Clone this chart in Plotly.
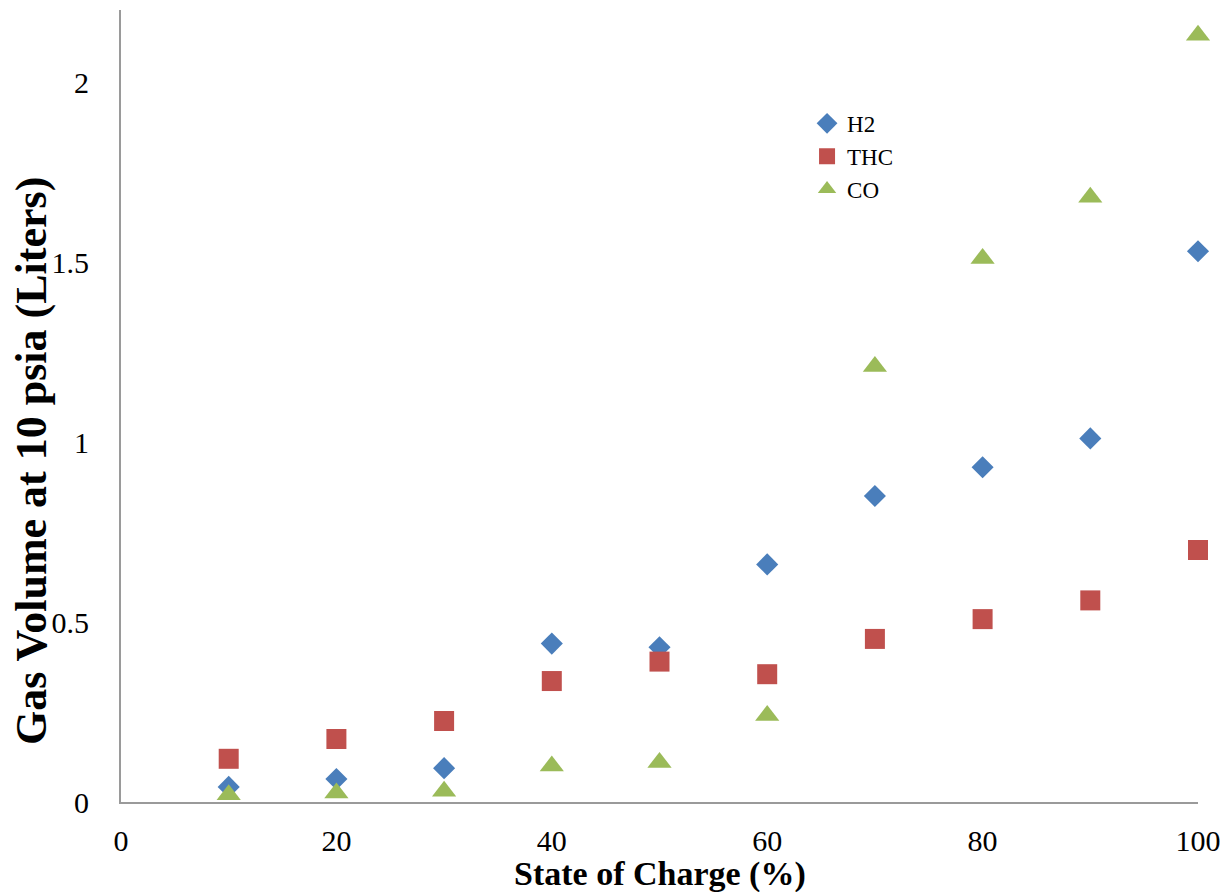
import plotly.graph_objects as go

soc = [10, 20, 30, 40, 50, 60, 70, 80, 90, 100]
h2 = [0.042, 0.064, 0.094, 0.44, 0.43, 0.66, 0.85, 0.93, 1.01, 1.53]
thc = [0.12, 0.175, 0.225, 0.336, 0.39, 0.355, 0.453, 0.508, 0.56, 0.70]
co = [0.02, 0.025, 0.03, 0.10, 0.11, 0.24, 1.21, 1.51, 1.68, 2.13]

x_title = "State of Charge (%)"
y_title = "Gas Volume at 10 psia (Liters)"

font = "Liberation Serif, Times New Roman, serif"

fig = go.Figure()
fig.add_trace(go.Scatter(x=soc, y=h2, mode="markers", name="H2",
                         marker=dict(symbol="diamond", size=17, color="#4A7EBB")))
fig.add_trace(go.Scatter(x=soc, y=thc, mode="markers", name="THC",
                         marker=dict(symbol="square", size=20, color="#C0504D")))
fig.add_trace(go.Scatter(x=soc, y=co, mode="markers", name="CO",
                         marker=dict(symbol="triangle-up", size=21, color="#9BBB59")))

fig.update_layout(
    width=1228, height=892,
    margin=dict(l=113, r=38, t=2, b=98),
    plot_bgcolor="white", paper_bgcolor="white",
    font=dict(family=font, size=30, color="black"),
    showlegend=True,
    legend=dict(x=0.637, y=0.884, xanchor="left", yanchor="top",
                font=dict(size=23), bgcolor="rgba(0,0,0,0)",
                itemwidth=30, tracegroupgap=0),
    xaxis=dict(range=[0, 100], tickvals=[0, 20, 40, 60, 80, 100],
               showgrid=False, zeroline=False, showline=True,
               linecolor="#9a9a9a", linewidth=2, ticks="",
               ticklabelstandoff=11),
    yaxis=dict(range=[0, 2.2], tickvals=[0, 0.5, 1, 1.5, 2],
               ticktext=["0", "0.5", "1", "1.5", "2"],
               showgrid=False, zeroline=False, showline=True,
               linecolor="#9a9a9a", linewidth=2, ticks="",
               ticklabelstandoff=24),
    annotations=[
        dict(text="<b>" + x_title + "</b>", xref="paper", yref="paper",
             x=0.5, y=-0.0915, xanchor="center", yanchor="middle",
             showarrow=False, font=dict(size=34)),
        dict(text="<b>" + y_title + "</b>", xref="paper", yref="paper",
             x=-0.083, y=0.43, xanchor="center", yanchor="middle",
             textangle=-90, showarrow=False, font=dict(size=44)),
    ],
)
fig.update_traces(cliponaxis=False)

fig.write_html("out.html")
